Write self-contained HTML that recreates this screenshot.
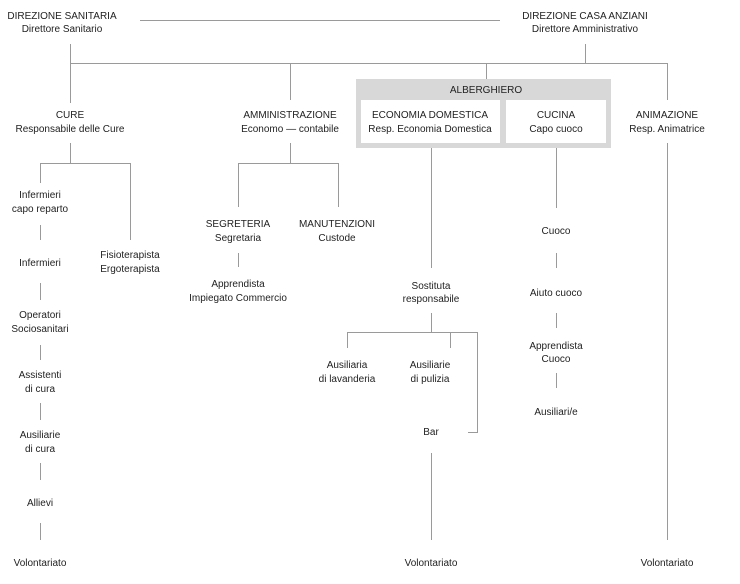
<!DOCTYPE html>
<html><head><meta charset="utf-8"><style>
html,body{margin:0;padding:0;background:#fff;}
svg{display:block;}
text{font-family:"Liberation Sans",sans-serif;font-size:10px;fill:#222;text-anchor:middle;}
line{stroke:#9a9a9a;stroke-width:1;}
</style></head><body>
<svg width="740" height="584" viewBox="0 0 740 584" xmlns="http://www.w3.org/2000/svg">
<!-- top -->
<text x="62" y="19">DIREZIONE SANITARIA</text>
<text x="62" y="32">Direttore Sanitario</text>
<text x="585" y="19">DIREZIONE CASA ANZIANI</text>
<text x="585" y="32">Direttore Amministrativo</text>
<line x1="140" y1="20.5" x2="500" y2="20.5"/>
<line x1="70.5" y1="44" x2="70.5" y2="103"/>
<line x1="585.5" y1="44" x2="585.5" y2="63"/>
<line x1="70" y1="63.5" x2="668" y2="63.5"/>
<line x1="290.5" y1="63" x2="290.5" y2="100"/>
<line x1="486.5" y1="63" x2="486.5" y2="79"/>
<line x1="667.5" y1="63" x2="667.5" y2="100"/>
<!-- alberghiero -->
<rect x="356" y="79" width="255" height="69" fill="#d8d8d8"/>
<rect x="361" y="100" width="139" height="43" fill="#fff"/>
<rect x="506" y="100" width="100" height="43" fill="#fff"/>
<text x="486" y="93">ALBERGHIERO</text>
<text x="430" y="118">ECONOMIA DOMESTICA</text>
<text x="430" y="132">Resp. Economia Domestica</text>
<text x="556" y="118">CUCINA</text>
<text x="556" y="132">Capo cuoco</text>
<text x="667" y="118">ANIMAZIONE</text>
<text x="667" y="132">Resp. Animatrice</text>
<!-- cure -->
<text x="70" y="118">CURE</text>
<text x="70" y="132">Responsabile delle Cure</text>
<line x1="70.5" y1="143" x2="70.5" y2="163"/>
<line x1="40" y1="163.5" x2="131" y2="163.5"/>
<line x1="40.5" y1="163" x2="40.5" y2="183"/>
<line x1="130.5" y1="163" x2="130.5" y2="240"/>
<text x="130" y="258">Fisioterapista</text>
<text x="130" y="272">Ergoterapista</text>
<text x="40" y="198">Infermieri</text>
<text x="40" y="212">capo reparto</text>
<line x1="40.5" y1="225" x2="40.5" y2="240"/>
<text x="40" y="266">Infermieri</text>
<line x1="40.5" y1="283" x2="40.5" y2="300"/>
<text x="40" y="318">Operatori</text>
<text x="40" y="332">Sociosanitari</text>
<line x1="40.5" y1="345" x2="40.5" y2="360"/>
<text x="40" y="378">Assistenti</text>
<text x="40" y="392">di cura</text>
<line x1="40.5" y1="403" x2="40.5" y2="420"/>
<text x="40" y="438">Ausiliarie</text>
<text x="40" y="452">di cura</text>
<line x1="40.5" y1="463" x2="40.5" y2="480"/>
<text x="40" y="506">Allievi</text>
<line x1="40.5" y1="523" x2="40.5" y2="540"/>
<text x="40" y="566">Volontariato</text>
<!-- amministrazione -->
<text x="290" y="118">AMMINISTRAZIONE</text>
<text x="290" y="132">Economo — contabile</text>
<line x1="290.5" y1="143" x2="290.5" y2="163"/>
<line x1="238" y1="163.5" x2="339" y2="163.5"/>
<line x1="238.5" y1="163" x2="238.5" y2="207"/>
<line x1="338.5" y1="163" x2="338.5" y2="207"/>
<text x="238" y="227">SEGRETERIA</text>
<text x="238" y="241">Segretaria</text>
<text x="337" y="227">MANUTENZIONI</text>
<text x="337" y="241">Custode</text>
<line x1="238.5" y1="253" x2="238.5" y2="267"/>
<text x="238" y="287">Apprendista</text>
<text x="238" y="301">Impiegato Commercio</text>
<!-- economia -->
<line x1="431.5" y1="148" x2="431.5" y2="268"/>
<text x="431" y="289">Sostituta</text>
<text x="431" y="302">responsabile</text>
<line x1="431.5" y1="313" x2="431.5" y2="332"/>
<line x1="347" y1="332.5" x2="478" y2="332.5"/>
<line x1="347.5" y1="332" x2="347.5" y2="348"/>
<line x1="450.5" y1="332" x2="450.5" y2="348"/>
<line x1="477.5" y1="332" x2="477.5" y2="432"/>
<line x1="468" y1="432.5" x2="478" y2="432.5"/>
<text x="347" y="368">Ausiliaria</text>
<text x="347" y="382">di lavanderia</text>
<text x="430" y="368">Ausiliarie</text>
<text x="430" y="382">di pulizia</text>
<text x="431" y="435">Bar</text>
<line x1="431.5" y1="453" x2="431.5" y2="540"/>
<text x="431" y="566">Volontariato</text>
<!-- cucina -->
<line x1="556.5" y1="148" x2="556.5" y2="208"/>
<text x="556" y="234">Cuoco</text>
<line x1="556.5" y1="253" x2="556.5" y2="268"/>
<text x="556" y="296">Aiuto cuoco</text>
<line x1="556.5" y1="313" x2="556.5" y2="328"/>
<text x="556" y="349">Apprendista</text>
<text x="556" y="362">Cuoco</text>
<line x1="556.5" y1="373" x2="556.5" y2="388"/>
<text x="556" y="415">Ausiliari/e</text>
<!-- animazione -->
<line x1="667.5" y1="143" x2="667.5" y2="540"/>
<text x="667" y="566">Volontariato</text>
</svg>
</body></html>
